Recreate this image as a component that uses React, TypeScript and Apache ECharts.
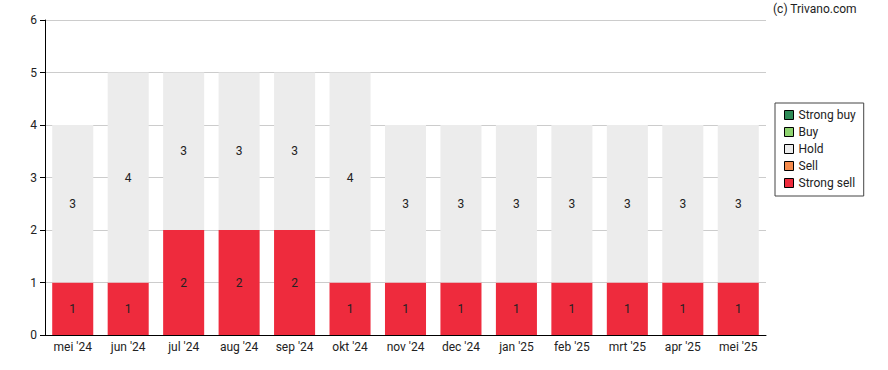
import React, { useEffect, useRef } from "react";
import * as echarts from "echarts";

const categories = ["mei '24", "jun '24", "jul '24", "aug '24", "sep '24", "okt '24", "nov '24", "dec '24", "jan '25", "feb '25", "mrt '25", "apr '25", "mei '25"];
const strongSell = [1, 1, 2, 2, 2, 1, 1, 1, 1, 1, 1, 1, 1];
const sell = [0, 0, 0, 0, 0, 0, 0, 0, 0, 0, 0, 0, 0];
const hold = [3, 4, 3, 3, 3, 4, 3, 3, 3, 3, 3, 3, 3];
const buy = [0, 0, 0, 0, 0, 0, 0, 0, 0, 0, 0, 0, 0];
const strongBuy = [0, 0, 0, 0, 0, 0, 0, 0, 0, 0, 0, 0, 0];
const yTicks = { min: 0, max: 6, interval: 1 };

const FONT = "Roboto, 'DejaVu Sans', sans-serif";

export default function App() {
  const ref = useRef<HTMLDivElement>(null);
  useEffect(() => {
    if (!ref.current) return;
    const chart = echarts.init(ref.current, null, { renderer: "svg" });
    const mk = (name: string, data: number[], color: string) => ({
      name,
      type: "bar",
      stack: "total",
      data,
      barWidth: "74%",
      itemStyle: { color },
      label: {
        show: true,
        position: "inside",
        color: "#222",
        fontSize: 12,
        fontFamily: FONT,
        formatter: (p: any) => (p.value ? String(p.value) : ""),
      },
      emphasis: { disabled: true },
    });
    chart.setOption({
      animation: false,
      textStyle: { fontFamily: FONT },
      grid: { left: 45, right: 122, top: 20, bottom: 35 },
      graphic: [
        {
          type: "text",
          left: 773,
          top: 3,
          style: { text: "(c) Trivano.com", fontSize: 12, fontFamily: FONT, fill: "#222" },
        },
      ],
      legend: {
        orient: "vertical",
        left: 775,
        top: 103,
        padding: [6, 8, 7, 9],
        borderColor: "#444",
        borderWidth: 1,
        borderRadius: 0,
        itemWidth: 9,
        itemHeight: 9,
        itemGap: 5,
        icon: "rect",
        textStyle: { fontSize: 12, color: "#222", fontFamily: FONT },
        data: [
          { name: "Strong buy", itemStyle: { borderColor: "#000", borderWidth: 1 } },
          { name: "Buy", itemStyle: { borderColor: "#000", borderWidth: 1 } },
          { name: "Hold", itemStyle: { borderColor: "#000", borderWidth: 1 } },
          { name: "Sell", itemStyle: { borderColor: "#000", borderWidth: 1 } },
          { name: "Strong sell", itemStyle: { borderColor: "#000", borderWidth: 1 } },
        ],
      },
      xAxis: {
        type: "category",
        data: categories,
        axisLine: { lineStyle: { color: "#000" } },
        axisTick: { alignWithLabel: true, length: 5, lineStyle: { color: "#000" } },
        axisLabel: { color: "#222", fontSize: 12, margin: 6, fontFamily: FONT },
      },
      yAxis: {
        type: "value",
        min: yTicks.min,
        max: yTicks.max,
        interval: yTicks.interval,
        axisLine: { show: true, lineStyle: { color: "#000" } },
        axisTick: { show: true, length: 5, lineStyle: { color: "#000" } },
        axisLabel: { color: "#222", fontSize: 12, margin: 8, fontFamily: FONT },
        splitLine: { lineStyle: { color: "#cccccc" } },
      },
      series: [
        mk("Strong sell", strongSell, "#ee2b3d"),
        mk("Sell", sell, "#f58b4c"),
        mk("Hold", hold, "#ececec"),
        mk("Buy", buy, "#8ed36f"),
        mk("Strong buy", strongBuy, "#2e8b57"),
      ],
    });
    return () => chart.dispose();
  }, []);
  return <div ref={ref} style={{ position: "absolute", left: 0, top: 0, width: 888, height: 370 }} />;
}
